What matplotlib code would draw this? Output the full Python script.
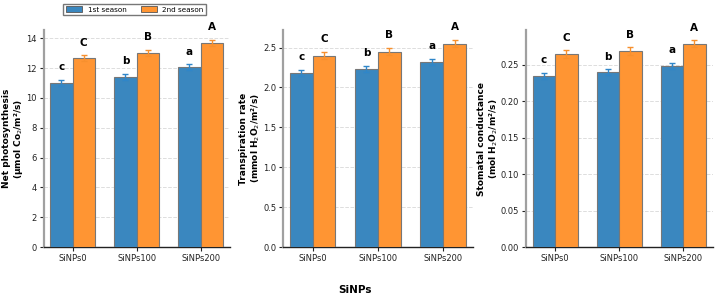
import numpy as np
import matplotlib.pyplot as plt
from matplotlib.patches import Patch

# data
groups = ['SiNPs0', 'SiNPs100', 'SiNPs200']

np_s1 = [11.0, 11.4, 12.05]
np_s2 = [12.65, 13.0, 13.7]
np_e1 = [0.2, 0.22, 0.2]
np_e2 = [0.2, 0.22, 0.2]

tr_s1 = [2.18, 2.235, 2.32]
tr_s2 = [2.40, 2.45, 2.55]
tr_e1 = [0.04, 0.04, 0.04]
tr_e2 = [0.045, 0.045, 0.045]

sc_s1 = [0.235, 0.240, 0.249]
sc_s2 = [0.265, 0.269, 0.279]
sc_e1 = [0.004, 0.004, 0.004]
sc_e2 = [0.005, 0.005, 0.005]

lett1 = ['c', 'b', 'a']
lett2 = ['C', 'B', 'A']

ylabels = ['Net photosynthesis\n(μmol Co$_2$/m²/s)',
           'Transpiration rate\n(mmol H$_2$O$_2$/m²/s)',
           'Stomatal conductance\n(mol H$_2$O$_2$/m²/s)']
ylims = [14.55, 2.72, 0.298]
yticks = [np.arange(0, 15, 2), np.arange(0, 2.6, 0.5), np.arange(0, 0.26, 0.05)]
yfmt = ['{:.0f}', '{:.1f}', '{:.2f}']

c1 = '#3a87bf'
c2 = '#ff9533'
e1c = '#2f86c9'
e2c = '#f7902e'

plt.rcParams['font.family'] = 'DejaVu Sans'

fig = plt.figure(figsize=(7.17, 2.97), dpi=100)
lefts = [0.061, 0.395, 0.734]
widths = [0.260, 0.265, 0.260]

x = np.arange(len(groups))
w = 0.35
panels = [(np_s1, np_s2, np_e1, np_e2), (tr_s1, tr_s2, tr_e1, tr_e2), (sc_s1, sc_s2, sc_e1, sc_e2)]

for i, (s1, s2, e1, e2) in enumerate(panels):
    ax = fig.add_axes([lefts[i], 0.168, widths[i], 0.731])
    ax.bar(x - w / 2, s1, w, color=c1, edgecolor='#777777', linewidth=0.8, zorder=3)
    ax.bar(x + w / 2, s2, w, color=c2, edgecolor='#777777', linewidth=0.8, zorder=3)
    ax.errorbar(x - w / 2, s1, yerr=e1, fmt='none', ecolor=e1c, capsize=2.5, elinewidth=1, capthick=1, zorder=4)
    ax.errorbar(x + w / 2, s2, yerr=e2, fmt='none', ecolor=e2c, capsize=2.5, elinewidth=1, capthick=1, zorder=4)
    off = ylims[i] * 0.035
    for j in range(len(groups)):
        ax.text(x[j] - w / 2, s1[j] + e1[j] + off, lett1[j], ha='center', va='bottom',
                fontsize=7.5, fontweight='bold')
        ax.text(x[j] + w / 2, s2[j] + e2[j] + off, lett2[j], ha='center', va='bottom',
                fontsize=7.5, fontweight='bold')
    ax.set_ylim(0, ylims[i])
    ax.set_xlim(-0.45, 2.46)
    ax.set_yticks(yticks[i])
    ax.set_yticklabels([yfmt[i].format(v) for v in yticks[i]])
    ax.set_xticks(x)
    ax.set_xticklabels(groups)
    ax.tick_params(labelsize=6, colors='#222222', length=3, width=0.8, pad=2)
    ax.yaxis.grid(True, linestyle='--', color='#dddddd', linewidth=0.7, zorder=0)
    ax.set_axisbelow(True)
    ax.spines['top'].set_visible(False)
    ax.spines['right'].set_visible(False)
    ax.spines['left'].set_color('#a0a0a0')
    ax.spines['left'].set_linewidth(1.6)
    ax.spines['bottom'].set_color('#222222')
    ax.spines['bottom'].set_linewidth(1.0)
    ax.set_ylabel(ylabels[i], fontsize=6.5, fontweight='bold', labelpad=1, linespacing=1.1)

fig.text(0.495, 0.025, 'SiNPs', ha='center', va='center', fontsize=7.5, fontweight='bold')

handles = [Patch(facecolor=c1, edgecolor='#555555', linewidth=0.6, label='1st season'),
           Patch(facecolor=c2, edgecolor='#555555', linewidth=0.6, label='2nd season')]
fig.legend(handles=handles, loc='upper center', bbox_to_anchor=(0.188, 1.0), ncol=2,
           fontsize=5.2, frameon=True, fancybox=False, edgecolor='#555555',
           handlelength=2.2, handleheight=0.9, columnspacing=2.0, borderpad=0.35)

fig.savefig('out.png', dpi=100)
